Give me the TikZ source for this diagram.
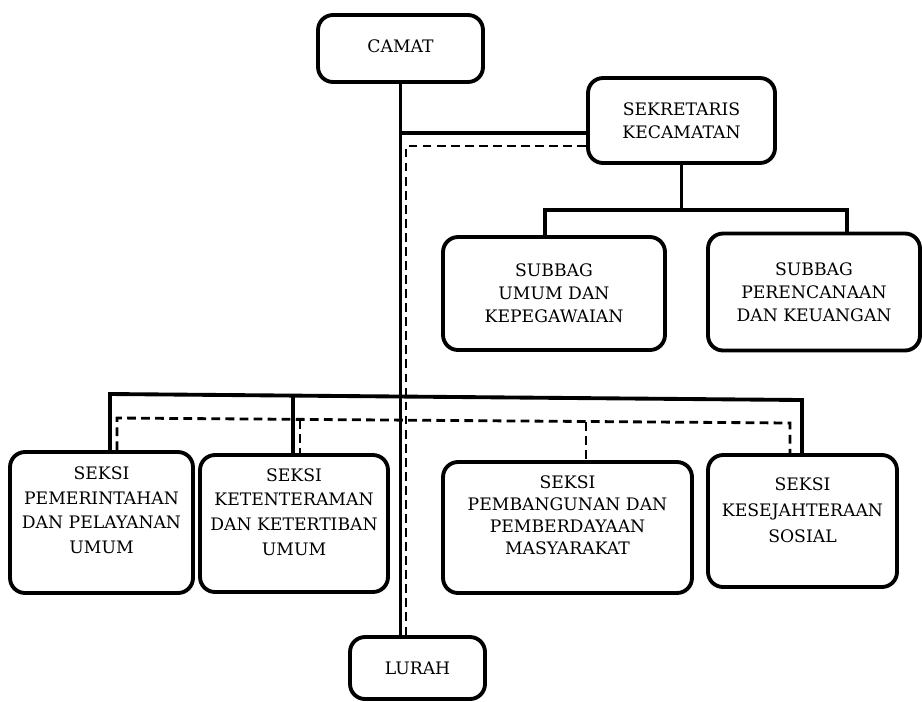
\documentclass[tikz,border=0pt]{standalone}
\usepackage{fontspec}
\setmainfont{DejaVu Serif}
\tikzset{
  box/.style={draw, rounded corners=0.3cm, line width=2.2pt, align=center, inner sep=0pt,
    font=\fontsize{9.8}{13}\selectfont},
  toptext/.style={anchor=north, inner sep=0pt, align=center, font=\fontsize{9.8}{14}\selectfont},
  link/.style={line width=2.2pt},
  dlink/.style={line width=1.6pt, dash pattern=on 5pt off 3pt}
}
\begin{document}
\begin{tikzpicture}[x=0.02cm, y=-0.02cm]
    \useasboundingbox (0,0) rectangle (922,701);
    % top of the chart
    \node[box, minimum width=3.3cm, minimum height=1.34cm] (camat) at (400.5,48.5) {\raisebox{3pt}{CAMAT}};
    \node[box, minimum width=3.74cm, minimum height=1.7cm] (sek) at (681.5,120.5) {SEKRETARIS\\KECAMATAN};
    \node[box, minimum width=4.44cm, minimum height=2.26cm] (sub1) at (554,293.5) {SUBBAG\\UMUM DAN\\KEPEGAWAIAN};
    \node[box, minimum width=4.24cm, minimum height=2.34cm] (sub2) at (814,292) {SUBBAG\\PERENCANAAN\\DAN KEUANGAN};
    % the four sections, text sits near the top of each box
    \node[box, minimum width=3.66cm, minimum height=2.82cm,
      label={[toptext, yshift=-0.33cm]north:{SEKSI\\PEMERINTAHAN\\DAN PELAYANAN\\UMUM}}] (s1) at (101.5,522.5) {};
    \node[box, minimum width=3.76cm, minimum height=2.74cm,
      label={[toptext, yshift=-0.3cm]north:{SEKSI\\KETENTERAMAN\\DAN KETERTIBAN\\UMUM}}] (s2) at (294,523.5) {};
    \node[box, minimum width=4.98cm, minimum height=2.62cm,
      label={[toptext, yshift=-0.3cm, font=\fontsize{9.8}{12.5}\selectfont]north:{SEKSI\\PEMBANGUNAN DAN\\PEMBERDAYAAN\\MASYARAKAT}}] (s3) at (567.5,527.5) {};
    \node[box, minimum width=3.78cm, minimum height=2.64cm,
      label={[toptext, yshift=-0.48cm, font=\fontsize{9.8}{15}\selectfont]north:{SEKSI\\KESEJAHTERAAN\\SOSIAL}}] (s4) at (802.5,521) {};
    \node[box, minimum width=2.7cm, minimum height=1.24cm] (lurah) at (417.5,668) {LURAH};

    % junction points
    \coordinate (sj) at (400,133);
    \coordinate (dk) at (406,146);
    \coordinate (sbl) at (545,210);
    \coordinate (sbr) at (847,210);
    \coordinate (bl) at (110,394);
    \coordinate (br) at (802,400);
    \coordinate (bm) at (293,397);
    \coordinate (dl) at (117,418);
    \coordinate (dr) at (790,423);
    \coordinate (dm1) at (300,420);
    \coordinate (dm2) at (586,422);

    % command lines
    \draw[link] (camat.south) -- (camat.south |- lurah.north);
    \draw[link] (sj) -- (sj -| sek.west);
    \draw[link] (sek.south) -- (sek.south |- sbl);
    \draw[link] (sbl |- sub1.north) -- (sbl) -- (sbr) -- (sbr |- sub2.north);
    \draw[link] (bl |- s1.north) -- (bl) -- (br) -- (br |- s4.north);
    \draw[link] (bm) -- (bm |- s2.north);

    % coordination lines
    \draw[dlink] (dk -| sek.west) -- (dk) -- (dk |- lurah.north);
    \draw[dlink] (dl |- s1.north) -- (dl) -- (dr) -- (dr |- s4.north);
    \draw[dlink] (dm1) -- (dm1 |- s2.north);
    \draw[dlink] (dm2) -- (dm2 |- s3.north);
\end{tikzpicture}
\end{document}
